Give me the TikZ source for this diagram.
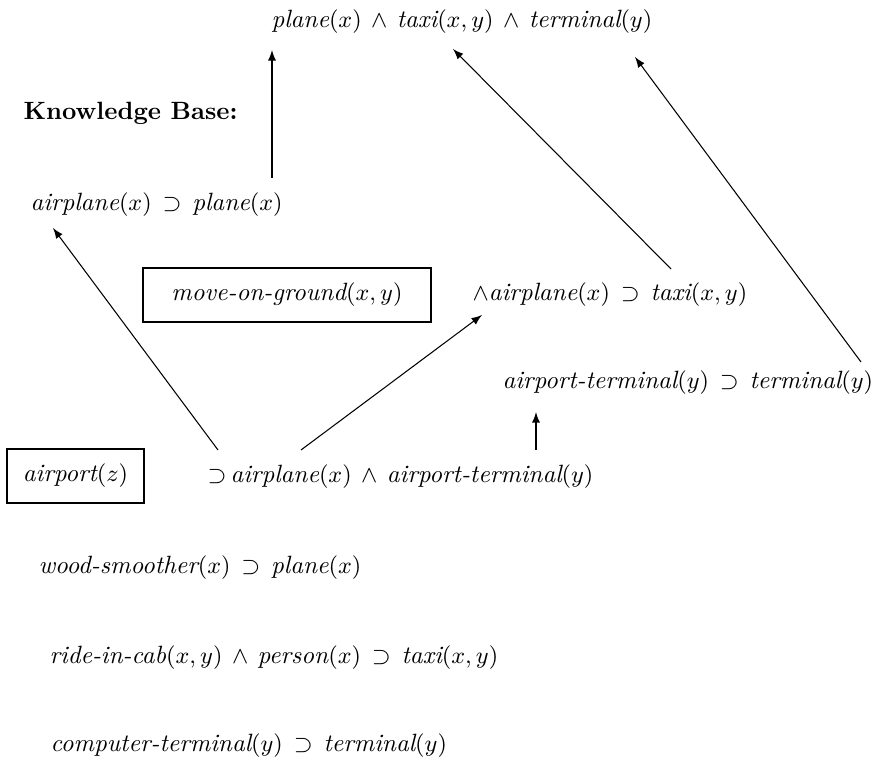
\documentclass[tikz,border=0pt]{standalone}
\usepackage{amsmath, amssymb}
\usepackage{tikz}
\usetikzlibrary{arrows.meta}

\newcommand{\pr}[1]{\textit{#1}}
\newcommand{\imp}{\,\supset\,}
\newcommand{\conj}{\,\wedge\,}

\begin{document}
\begin{tikzpicture}[x=0.38pt, y=-0.38pt,
    font=\fontsize{9.5pt}{11pt}\selectfont,
    fact/.style={anchor=west, inner sep=0pt},
    boxed/.style={draw, inner sep=0pt},
    link/.style={-latex, thin}]
		\useasboundingbox (0,0) rectangle (877,763);

		% Goal
		\node[fact] (goal) at (271,22) {$\pr{plane}(x)\conj\pr{taxi}(x,y)\conj\pr{terminal}(y)$};

		% Knowledge base
		\node[fact] (kb) at (23,113) {\textbf{Knowledge Base:}};
		\node[fact] (r1) at (30,205) {$\pr{airplane}(x)\imp\pr{plane}(x)$};
		\node[boxed, minimum width=288*0.38pt, minimum height=54*0.38pt] (mog) at (287,295) {$\pr{move-on-ground}(x,y)$};
		\node[fact] (r2) at (472,295) {$\wedge\pr{airplane}(x)\imp\pr{taxi}(x,y)$};
		\node[fact] (r3) at (502,383) {$\pr{airport-terminal}(y)\imp\pr{terminal}(y)$};
		\node[boxed, minimum width=137*0.38pt, minimum height=54*0.38pt] (apt) at (75.5,476) {$\pr{airport}(z)$};
		\node[fact] (r4) at (207,477) {${\supset}\,\pr{airplane}(x)\conj\pr{airport-terminal}(y)$};
		\node[fact] (r5) at (38,568) {$\pr{wood-smoother}(x)\imp\pr{plane}(x)$};
		\node[fact] (r6) at (49,658) {$\pr{ride-in-cab}(x,y)\conj\pr{person}(x)\imp\pr{taxi}(x,y)$};
		\node[fact] (r7) at (50,746) {$\pr{computer-terminal}(y)\imp\pr{terminal}(y)$};

		% Links
		\draw[link] ([shift={(242,-27)}]r1.west) -- ([shift={(1,28)}]goal.west);
		\draw[link] ([shift={(199,-26)}]r2.west) -- ([shift={(182,27)}]goal.west);
		\draw[link] ([shift={(359,-21)}]r3.west) -- ([shift={(364,35)}]goal.west);
		\draw[link] ([shift={(11,-27)}]r4.west) -- ([shift={(23,23)}]r1.west);
		\draw[link] ([shift={(94,-27)}]r4.west) -- ([shift={(10,20)}]r2.west);
		\draw[link] ([shift={(329,-27)}]r4.west) -- ([shift={(34,29)}]r3.west);
	\end{tikzpicture}
\end{document}
